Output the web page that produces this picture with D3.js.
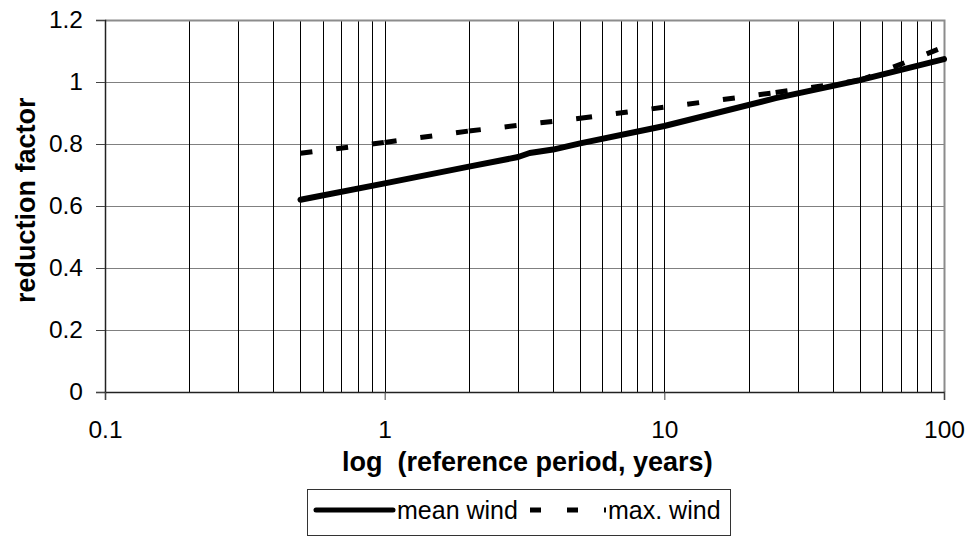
<!DOCTYPE html>
<html>
<head>
<meta charset="utf-8">
<script src="https://cdn.jsdelivr.net/npm/d3@7/dist/d3.min.js"></script>
<style>
  html, body { margin: 0; padding: 0; background: #fff; }
  svg { display: block; font-family: "Liberation Sans", Arial, sans-serif; }
</style>
</head>
<body>
<svg id="chart" width="971" height="536"></svg>
<script>
// Reference period (years) and reduction factors for each series
const meanPeriods = [0.5, 1, 2, 3, 3.3, 4, 5, 10, 25, 50, 100];
const meanWind    = [0.620, 0.673, 0.727, 0.758, 0.771, 0.782, 0.802, 0.858, 0.948, 1.006, 1.074];
const maxPeriods  = [0.5, 1, 2, 5, 25, 50, 100];
const maxWind     = [0.770, 0.805, 0.842, 0.883, 0.966, 1.005, 1.113];

const seriesNames = ["mean wind", "max. wind"];
const xTickValues = [0.1, 1, 10, 100];
const xTickLabels = ["0.1", "1", "10", "100"];
const yTickValues = [0, 0.2, 0.4, 0.6, 0.8, 1, 1.2];
const yTickLabels = ["0", "0.2", "0.4", "0.6", "0.8", "1", "1.2"];
const xTitle = "log  (reference period, years)";
const yTitle = "reduction factor";

const FONT = "'Liberation Sans', Arial, sans-serif";
const svg = d3.select("#chart");
const plot = { left: 105, right: 944, top: 20, bottom: 392 };

const x = d3.scaleLog().domain([0.1, 100]).range([plot.left, plot.right]);
const y = d3.scaleLinear().domain([0, 1.2]).range([plot.bottom, plot.top]);

// Horizontal gridlines
svg.append("g").selectAll("line")
  .data(yTickValues.filter(v => v > 0))
  .join("line")
  .attr("x1", plot.left).attr("x2", plot.right)
  .attr("y1", d => y(d) + 0.5).attr("y2", d => y(d) + 0.5)
  .attr("stroke", "#808080").attr("stroke-width", 1);

// Vertical gridlines at every log subdivision
const minor = [];
[0.1, 1, 10].forEach(dec => { for (let k = 1; k <= 9; k++) minor.push(dec * k); });
svg.append("g").selectAll("line")
  .data(minor.filter(v => v > 0.1 && v < 100))
  .join("line")
  .attr("x1", d => Math.round(x(d)) + 0.5).attr("x2", d => Math.round(x(d)) + 0.5)
  .attr("y1", plot.top).attr("y2", plot.bottom)
  .attr("stroke", "#000").attr("stroke-width", 1);

// Plot-area border (top and right)
svg.append("path")
  .attr("d", `M${plot.left},${plot.top + 0.5}H${plot.right + 0.5}V${plot.bottom}`)
  .attr("fill", "none").attr("stroke", "#8c8c8c").attr("stroke-width", 2);

// Y axis
const yAxis = d3.axisLeft(y).tickValues(yTickValues)
  .tickFormat((d, i) => yTickLabels[i]).tickSize(9).tickPadding(13);
const gy = svg.append("g").attr("transform", `translate(${plot.left},0)`).call(yAxis);
gy.select(".domain").attr("stroke", "#222").attr("stroke-width", 1.5);
gy.selectAll(".tick line").attr("stroke", "#444");
gy.selectAll(".tick text").attr("font-size", 24.5).attr("fill", "#000").attr("font-family", FONT);

// X axis
const xAxis = d3.axisBottom(x).tickValues(xTickValues)
  .tickFormat((d, i) => xTickLabels[i]).tickSize(8).tickPadding(21);
const gx = svg.append("g").attr("transform", `translate(0,${plot.bottom})`).call(xAxis);
gx.select(".domain").attr("stroke", "#222").attr("stroke-width", 1.5);
gx.selectAll(".tick line").attr("stroke", "#444");
gx.selectAll(".tick text").attr("font-size", 24.5).attr("fill", "#000").attr("font-family", FONT);

// Axis titles
svg.append("text")
  .attr("x", 342).attr("y", 471)
  .attr("text-anchor", "start").attr("font-weight", "bold").attr("font-size", 27)
  .style("white-space", "pre")
  .text(xTitle);
svg.append("text")
  .attr("transform", `translate(35,303) rotate(-90)`)
  .attr("text-anchor", "start").attr("font-weight", "bold").attr("font-size", 27)
  .text(yTitle);

// Series lines
const meanPts = meanPeriods.map((p, i) => [p, meanWind[i]]);
const maxPts = maxPeriods.map((p, i) => [p, maxWind[i]]);
const line = d3.line().x(d => x(d[0])).y(d => y(d[1]));

svg.append("path").datum(meanPts)
  .attr("d", line).attr("fill", "none")
  .attr("stroke", "#000").attr("stroke-width", 6)
  .attr("stroke-linecap", "round").attr("stroke-linejoin", "round");

// dash pattern restarts at each data point
svg.append("g").selectAll("path")
  .data(d3.pairs(maxPts))
  .join("path")
  .attr("d", d => line(d)).attr("fill", "none")
  .attr("stroke", "#000").attr("stroke-width", 5)
  .attr("stroke-dasharray", "12,24");

// Legend
const lg = svg.append("g");
lg.append("rect").attr("x", 307.5).attr("y", 489.5).attr("width", 423).attr("height", 46)
  .attr("fill", "#fff").attr("stroke", "#333").attr("stroke-width", 1);
const keys = [
  { name: seriesNames[0], x1: 316, x2: 393, tx: 397, dash: null },
  { name: seriesNames[1], x1: 530, x2: 606, tx: 608, dash: "11,26" }
];
keys.forEach(k => {
  lg.append("line").attr("x1", k.x1).attr("x2", k.x2).attr("y1", 510).attr("y2", 510)
    .attr("stroke", "#000").attr("stroke-width", 5)
    .attr("stroke-linecap", k.dash ? "butt" : "round")
    .attr("stroke-dasharray", k.dash);
  lg.append("text").attr("x", k.tx).attr("y", 519).attr("font-size", 25).text(k.name);
});
</script>
</body>
</html>
